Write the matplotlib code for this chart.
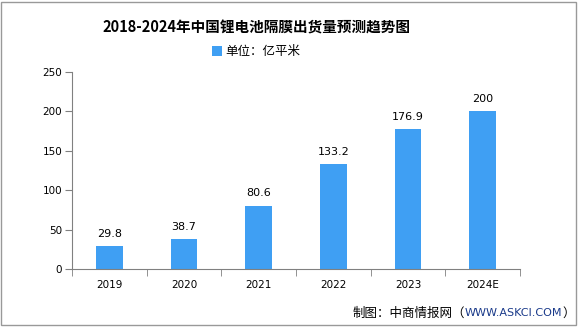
import numpy as np
import matplotlib.pyplot as plt
from matplotlib.patches import Rectangle

plt.rcParams['font.family'] = ['Noto Sans CJK SC', 'DejaVu Sans']

# data
years = ['2019', '2020', '2021', '2022', '2023', '2024E']
values = [29.8, 38.7, 80.6, 133.2, 176.9, 200]
yticks = [0, 50, 100, 150, 200, 250]

fig = plt.figure(figsize=(5.85, 3.27), dpi=100)
ax = fig.add_axes([0.1231, 0.1765, 0.7658, 0.6042])

x = np.arange(len(years))
ax.bar(x, values, width=0.36, color='#3f9ff3', zorder=2, label='单位：亿平米')
for xi, v in zip(x, values):
    ax.text(xi, v + 9, f'{v:g}', ha='center', va='bottom', fontsize=8,
            family='DejaVu Sans')

ax.set_xlim(-0.5, len(years) - 0.5)
ax.set_ylim(0, 250)
ax.set_yticks(yticks)
ax.set_xticks(x)
ax.set_xticklabels(years)
ax.set_xticks(np.arange(-0.5, len(years), 1), minor=True)
ax.tick_params(axis='x', which='major', length=0, pad=8, labelsize=7.5)
ax.tick_params(axis='x', which='minor', length=5, color='#808080', direction='out')
ax.tick_params(axis='y', length=5, color='#808080', labelsize=7.5, pad=2)
for lbl in ax.get_xticklabels() + ax.get_yticklabels():
    lbl.set_family('DejaVu Sans')
for s in ['top', 'right']:
    ax.spines[s].set_visible(False)
for s in ['left', 'bottom']:
    ax.spines[s].set_color('#808080')

fig.text(0.438, 0.915, '2018-2024年中国锂电池隔膜出货量预测趋势图', ha='center',
         va='center', fontsize=10.5, fontweight='bold')
fig.legend(loc='center', bbox_to_anchor=(0.438, 0.842), frameon=False,
           fontsize=9, handlelength=0.8, handleheight=0.8, handletextpad=0.3)

# source line, drawn from right to left
t3 = fig.text(0.983, 0.043, '）', fontsize=9, va='center', ha='right')
t2 = fig.text(0, 0, 'WWW.ASKCI.COM', fontsize=8, color='#1a3a8a',
              family='DejaVu Sans', va='center', ha='right')
fig.canvas.draw()
r = fig.canvas.get_renderer()
bb3 = t3.get_window_extent(r).transformed(fig.transFigure.inverted())
t2.set_position((bb3.x0, 0.043))
fig.canvas.draw()
bb2 = t2.get_window_extent(r).transformed(fig.transFigure.inverted())
fig.text(bb2.x0, 0.043, '制图：中商情报网（', fontsize=9, va='center', ha='right')

fig.patches.append(Rectangle((0.002, 0.005), 0.983, 0.99, transform=fig.transFigure,
                             fill=False, edgecolor='#999999', linewidth=1))

fig.savefig('out.png', dpi=100)
